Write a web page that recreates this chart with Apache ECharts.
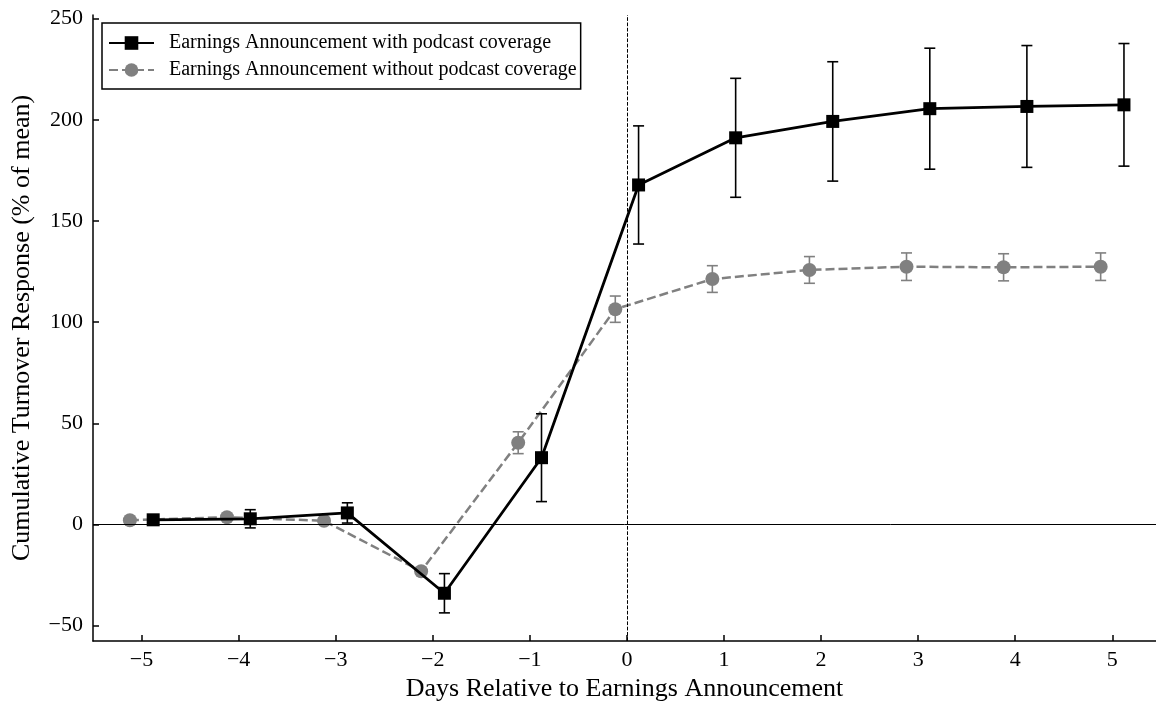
<!DOCTYPE html>
<html>
<head>
<meta charset="utf-8">
<script src="https://cdn.jsdelivr.net/npm/echarts@6/dist/echarts.min.js"></script>
<style>html,body{margin:0;padding:0;background:#fff;}#chart{width:1156px;height:707px;}</style>
</head>
<body>
<div id="chart"></div>
<script>
// ---- data ----
const days = [-5, -4, -3, -2, -1, 0, 1, 2, 3, 4, 5];
const withPodcast = [2.3, 2.8, 5.7, -34.0, 33.0, 167.8, 191.1, 199.2, 205.5, 206.6, 207.4];
const withPodcastErr = [1.5, 4.5, 5.0, 9.7, 21.7, 29.2, 29.4, 29.5, 29.9, 30.1, 30.3];
const withoutPodcast = [2.1, 3.6, 1.8, -23.1, 40.4, 106.4, 121.3, 125.8, 127.4, 127.1, 127.4];
const withoutPodcastErr = [1.0, 1.0, 1.0, 1.5, 5.4, 6.5, 6.6, 6.6, 6.8, 6.7, 6.8];
const xTicks = [-5, -4, -3, -2, -1, 0, 1, 2, 3, 4, 5];
const yTicks = [-50, 0, 50, 100, 150, 200, 250];
const nameWith = 'Earnings Announcement with podcast coverage';
const nameWithout = 'Earnings Announcement without podcast coverage';

// ---- layout ----
const dodge = 0.12;
const FONT = '"Liberation Serif", "Times New Roman", serif';
const ptsWith = days.map((d, i) => [d + dodge, withPodcast[i]]);
const ptsWithout = days.map((d, i) => [d - dodge, withoutPodcast[i]]);
const errWith = days.map((d, i) => [d + dodge, withPodcast[i] - withPodcastErr[i], withPodcast[i] + withPodcastErr[i]]);
const errWithout = days.map((d, i) => [d - dodge, withoutPodcast[i] - withoutPodcastErr[i], withoutPodcast[i] + withoutPodcastErr[i]]);

function errRender(color, cap) {
  return function (params, api) {
    const x = api.value(0);
    const lo = api.coord([x, api.value(1)]);
    const hi = api.coord([x, api.value(2)]);
    const st = { stroke: color, lineWidth: 1.6 };
    return {
      type: 'group',
      children: [
        { type: 'line', shape: { x1: lo[0], y1: lo[1], x2: hi[0], y2: hi[1] }, style: st },
        { type: 'line', shape: { x1: lo[0] - cap, y1: lo[1], x2: lo[0] + cap, y2: lo[1] }, style: st },
        { type: 'line', shape: { x1: hi[0] - cap, y1: hi[1], x2: hi[0] + cap, y2: hi[1] }, style: st }
      ]
    };
  };
}

const chart = echarts.init(document.getElementById('chart'), null, { renderer: 'canvas' });
chart.setOption({
  animation: false,
  backgroundColor: '#fff',
  textStyle: { fontFamily: FONT },
  grid: { left: 93, right: 0, top: 15, bottom: 66, containLabel: false },
  legend: {
    orient: 'vertical',
    left: 102, top: 23,
    padding: [10, 4, 9, 6],
    itemGap: 7,
    itemWidth: 45, itemHeight: 17,
    borderColor: '#000', borderWidth: 1.5, borderRadius: 0,
    backgroundColor: '#fff',
    textStyle: { fontFamily: FONT, fontSize: 20, color: '#000', lineHeight: 20, padding: [0, 0, 0, 10] },
    data: [nameWith, nameWithout]
  },
  xAxis: {
    type: 'value', min: -5.5, max: 5.45,
    name: 'Days Relative to Earnings Announcement',
    nameLocation: 'middle', nameGap: 33,
    nameTextStyle: { fontFamily: FONT, fontSize: 26, color: '#000' },
    axisLine: { show: true, onZero: false, lineStyle: { color: '#000', width: 1.5 } },
    axisTick: { show: true, inside: true, length: 6, lineStyle: { color: '#000', width: 1.5 }, customValues: xTicks },
    axisLabel: { fontFamily: FONT, fontSize: 22, color: '#000', margin: 8, customValues: xTicks,
      formatter: v => (v < 0 ? '\u2212' + Math.abs(v) : String(v)) },
    splitLine: { show: false }
  },
  yAxis: {
    type: 'value', min: -57.6, max: 251.8,
    name: 'Cumulative Turnover Response (% of mean)',
    nameLocation: 'middle', nameGap: 58, nameRotate: 90,
    nameTextStyle: { fontFamily: FONT, fontSize: 26, color: '#000' },
    axisLine: { show: true, onZero: false, lineStyle: { color: '#000', width: 1.5 } },
    axisTick: { show: true, inside: true, length: 6, lineStyle: { color: '#000', width: 1.5 }, customValues: yTicks },
    axisLabel: { fontFamily: FONT, fontSize: 22, color: '#000', margin: 10, customValues: yTicks,
      formatter: v => (v < 0 ? '\u2212' + Math.abs(v) : String(v)) },
    splitLine: { show: false }
  },
  series: [
    {
      type: 'line', name: 'refs', data: [], silent: true, z: 1,
      markLine: {
        silent: true, symbol: 'none', label: { show: false },
        data: [
          { yAxis: 0, lineStyle: { color: '#000', width: 1, type: 'solid' } },
          { xAxis: 0, lineStyle: { color: '#000', width: 1, type: [3.7, 1.6] } }
        ]
      }
    },
    {
      type: 'custom', name: 'errWithout', data: errWithout, z: 2,
      renderItem: errRender('#808080', 5.5), silent: true
    },
    {
      type: 'line', name: nameWithout, data: ptsWithout, z: 3,
      symbol: 'circle', symbolSize: 14,
      itemStyle: { color: '#808080' },
      lineStyle: { color: '#808080', width: 2.5, type: [9, 4] }
    },
    {
      type: 'custom', name: 'errWith', data: errWith, z: 4,
      renderItem: errRender('#000', 5.5), silent: true
    },
    {
      type: 'line', name: nameWith, data: ptsWith, z: 5,
      symbol: 'rect', symbolSize: 13,
      itemStyle: { color: '#000' },
      lineStyle: { color: '#000', width: 2.8, type: 'solid' }
    }
  ]
});
</script>
</body>
</html>
